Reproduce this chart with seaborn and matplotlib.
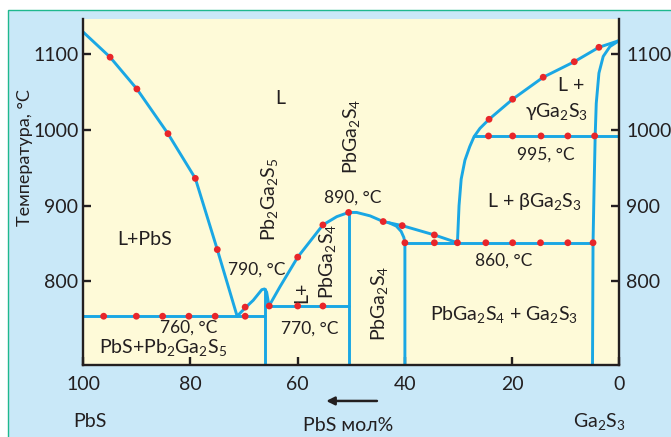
import seaborn as sns
import matplotlib.pyplot as plt
from matplotlib.patches import Rectangle

# данные: мол.% PbS и температура, °C
liq_pbs_x = [100, 95.0, 90.0, 84.2, 79.1, 75.0, 71.3]
liq_pbs_t = [1129, 1096, 1054, 995, 936, 842, 754]

eut760_x = [100, 66.1]
eut760_t = [754, 754]

hump_x = [71.3, 69.8, 68.3, 66.7, 66.2, 65.8, 65.35]
hump_t = [754, 765, 775, 789, 790, 786, 767.5]

pb2_x = [66.1, 66.1]
pb2_t = [790, 689]

eut770_x = [66.1, 50.5]
eut770_t = [767.5, 767.5]

rise_x = [65.35, 63.3, 60.0, 55.3, 52.7, 50.5]
rise_t = [767.5, 793, 832, 874.5, 885.5, 891]

pbga_x = [50.5, 50.5]
pbga_t = [891, 689]

fall_x = [50.5, 49.0, 46.5, 44.05, 40.5, 34.5, 30.2]
fall_t = [891, 891, 886.5, 879, 873.6, 861.3, 851]

branch_x = [43.0, 41.6, 40.7, 40.2, 40.0, 40.0]
branch_t = [877.5, 873, 866, 858, 851, 689]

eut860_x = [40.0, 4.9]
eut860_t = [851, 851]

liq_ga_x = [30.2, 29.9, 29.5, 28.8, 27.9, 27.1, 26.0, 24.3, 19.9, 14.2, 8.4, 3.8, 0]
liq_ga_t = [851, 900, 935, 960, 978, 991, 1002, 1014, 1040.5, 1069.5, 1090, 1109, 1118]

line995_x = [27.1, 0]
line995_t = [992, 992]

sol_ga_x = [0, 1.75, 3.0, 3.8, 4.3, 4.5, 4.7, 4.9, 5.0]
sol_ga_t = [1118, 1110, 1097, 1075, 1035, 992, 925, 851, 689]

# экспериментальные точки
dots_x = [95.0, 90.0, 84.2, 79.1, 75.0,
          96.2, 90.1, 85.2, 80.3, 75.4, 69.8, 69.8,
          65.3, 60.0, 55.3, 60.0, 55.3, 50.5,
          44.05, 40.5, 34.5,
          40.0, 34.5, 30.2, 24.9, 19.9, 14.7, 9.6, 4.9,
          24.3, 19.9, 14.2, 8.4, 3.8,
          24.4, 19.9, 14.6, 9.6, 4.6]
dots_t = [1096, 1054, 995, 936, 842,
          754, 754, 754, 754, 754, 754, 766,
          767.5, 767.5, 767.5, 832, 874.5, 891,
          879, 873.6, 861.3,
          851, 851, 851, 851, 851, 851, 851, 851,
          1014, 1040.5, 1069.5, 1090, 1109,
          992, 992, 992, 992, 992]

x_ticks = [100, 80, 60, 40, 20, 0]
y_ticks = [800, 900, 1000, 1100]

BLUE = '#1aa7e4'
RED = '#e8262a'
INK = '#231f20'

sns.set_theme(style='ticks')
plt.rcParams['font.family'] = ['Lato', 'Noto Sans', 'DejaVu Sans']
plt.rcParams['mathtext.default'] = 'regular'

fig = plt.figure(figsize=(6.71, 4.37), dpi=100)
fig.patch.set_facecolor('white')
bg = Rectangle((8 / 671, -0.01), 1.0, 1 - 10 / 437 + 0.01, transform=fig.transFigure,
               facecolor='#c9e8f8', edgecolor='#1fb88e', lw=1.0, zorder=-10)
fig.patches.append(bg)

ax = fig.add_axes([83.3 / 671, 1 - 365 / 437, 536 / 671, 345.7 / 437])
ax.set_facecolor('#fefad8')

curves = [(liq_pbs_x, liq_pbs_t), (eut760_x, eut760_t), (hump_x, hump_t), (pb2_x, pb2_t),
          (eut770_x, eut770_t), (rise_x, rise_t), (pbga_x, pbga_t), (fall_x, fall_t),
          (branch_x, branch_t), (eut860_x, eut860_t), (liq_ga_x, liq_ga_t),
          (line995_x, line995_t), (sol_ga_x, sol_ga_t)]
for cx, ct in curves:
    sns.lineplot(x=cx, y=ct, ax=ax, color=BLUE, lw=2.1, sort=False, estimator=None)

sns.scatterplot(x=dots_x, y=dots_t, ax=ax, color=RED, s=24, edgecolor='none', zorder=4)

ax.set_xlim(100, 0)
ax.set_ylim(689.6, 1146)
ax.set_xticks(x_ticks)
ax.set_yticks(y_ticks)
ax.set_xlabel('')
ax.set_ylabel('')

for side in ['left', 'right', 'bottom']:
    ax.spines[side].set_linewidth(1.7)
    ax.spines[side].set_color(INK)
ax.spines['top'].set_visible(False)
ax.tick_params(axis='x', direction='in', length=6, width=1.7, color=INK, pad=8, labelsize=14, labelcolor=INK)
ax.tick_params(axis='y', direction='in', length=6, width=1.7, color=INK, pad=3.5, labelsize=14, labelcolor=INK)

ax2 = ax.twinx()
ax2.set_ylim(ax.get_ylim())
ax2.set_yticks(y_ticks)
ax2.tick_params(axis='y', direction='in', length=6, width=1.7, color=INK, pad=5, labelsize=14, labelcolor=INK)
for side in ['left', 'right', 'bottom', 'top']:
    ax2.spines[side].set_visible(False)

# подписи областей
ax.text(63.3, 1042, 'L', fontsize=14, ha='center', va='center', color=INK)
ax.text(88.5, 855, 'L+PbS', fontsize=14, ha='center', va='center', color=INK)
ax.text(80.4, 738.5, '760, °C', fontsize=12.5, ha='center', va='center', color=INK)
ax.text(85.1, 713, 'PbS+Pb$_2$Ga$_2$S$_5$', fontsize=14, ha='center', va='center', color=INK)
ax.text(67.6, 815, '790, °C', fontsize=12.5, ha='center', va='center', color=INK)
ax.text(57.8, 738, '770, °C', fontsize=12.5, ha='center', va='center', color=INK)
ax.text(49.75, 910, '890, °C', fontsize=12.5, ha='center', va='center', color=INK)
ax.text(65.2, 908, 'Pb$_2$Ga$_2$S$_5$', fontsize=14, rotation=90, ha='center', va='center', color=INK)
ax.text(49.9, 991, 'PbGa$_2$S$_4$', fontsize=14, rotation=90, ha='center', va='center', color=INK)
ax.text(59.2, 785, 'L+', fontsize=14, rotation=90, ha='center', va='center', color=INK)
ax.text(54.35, 826, 'PbGa$_2$S$_4$', fontsize=14, rotation=90, ha='center', va='center', color=INK)
ax.text(44.7, 771, 'PbGa$_2$S$_4$', fontsize=14, rotation=90, ha='center', va='center', color=INK)
ax.text(8.9, 1059, 'L +', fontsize=14, ha='center', va='center', color=INK)
ax.text(11.7, 1024, 'γGa$_2$S$_3$', fontsize=14, ha='center', va='center', color=INK)
ax.text(13.8, 967, '995, °C', fontsize=12.5, ha='center', va='center', color=INK)
ax.text(15.8, 905, 'L + βGa$_2$S$_3$', fontsize=14, ha='center', va='center', color=INK)
ax.text(21.5, 828, '860, °C', fontsize=12.5, ha='center', va='center', color=INK)
ax.text(21.5, 756, 'PbGa$_2$S$_4$ + Ga$_2$S$_3$', fontsize=14, ha='center', va='center', color=INK)

# подписи под осью
ax.text(98.7, -0.162, 'PbS', fontsize=14, ha='center', va='center', color=INK,
        transform=ax.get_xaxis_transform())
ax.text(50.6, -0.174, 'PbS мол%', fontsize=14, ha='center', va='center', color=INK,
        transform=ax.get_xaxis_transform())
ax.text(3.7, -0.162, 'Ga$_2$S$_3$', fontsize=14, ha='center', va='center', color=INK,
        transform=ax.get_xaxis_transform())
ax.annotate('', xy=(55.2, -0.104), xytext=(44.7, -0.104),
            xycoords=ax.get_xaxis_transform(), textcoords=ax.get_xaxis_transform(),
            arrowprops=dict(arrowstyle='-|>', color=INK, lw=1.8, mutation_scale=12))

fig.text(25 / 671, 1 - 158 / 437, 'Температура, °C', rotation=90, fontsize=13,
         ha='center', va='center', color=INK)

fig.savefig('out.png', dpi=100)
